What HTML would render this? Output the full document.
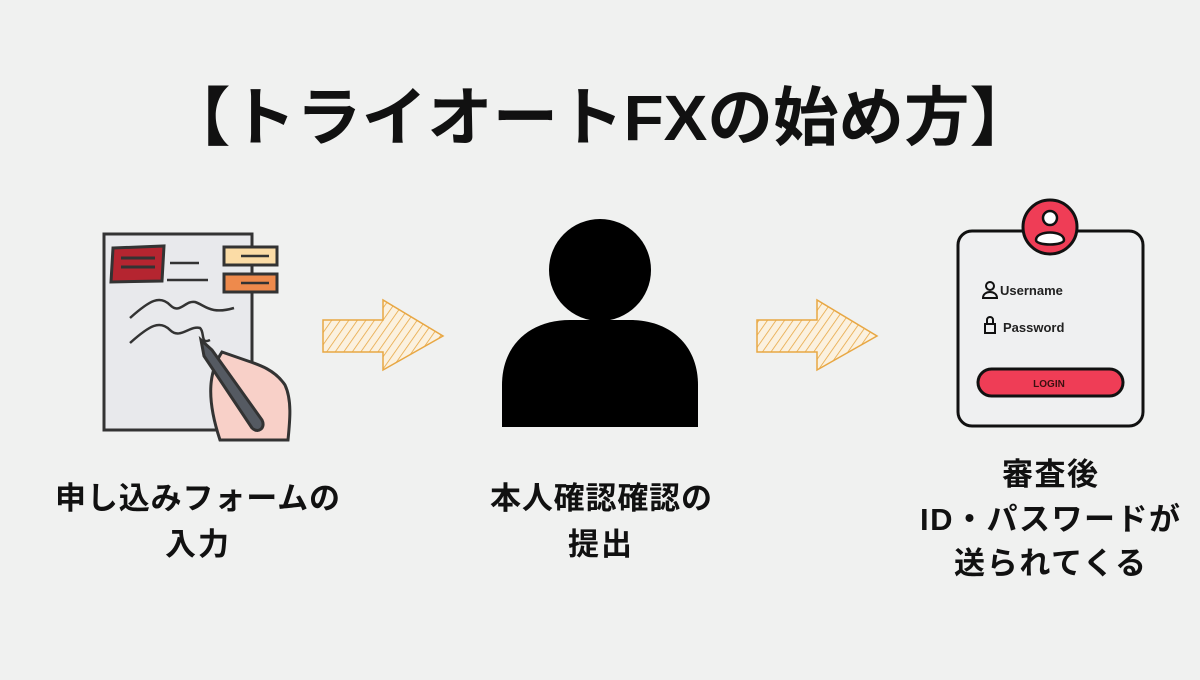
<!DOCTYPE html>
<html><head><meta charset="utf-8"><style>
body{margin:0;width:1200px;height:675px;background:#f0f1f0;overflow:hidden}
text{font-family:"Liberation Sans","Noto Sans CJK JP",sans-serif}
</style></head><body>
<svg width="1200" height="675" viewBox="0 0 1200 675" xmlns="http://www.w3.org/2000/svg">
<defs>
<pattern id="h" width="7" height="7" patternUnits="userSpaceOnUse" patternTransform="rotate(35)">
<rect width="7" height="7" fill="#fbf1df"/><line x1="0" y1="0" x2="0" y2="7" stroke="#e8a743" stroke-width="1.6"/>
</pattern>
</defs>
<text x="165" y="140" font-size="64" font-weight="bold" fill="#111" textLength="870" lengthAdjust="spacingAndGlyphs">【トライオートFXの始め方】</text>

<!-- document -->
<rect x="104" y="234" width="148" height="196" fill="#e8e9ec" stroke="#333" stroke-width="3"/>
<path d="M113 248 L164 246 L162 281 L111 282 Z" fill="#b52530" stroke="#333" stroke-width="3"/>
<line x1="121" y1="258" x2="155" y2="258" stroke="#333" stroke-width="3"/>
<line x1="121" y1="267" x2="155" y2="267" stroke="#333" stroke-width="3"/>
<line x1="170" y1="263" x2="199" y2="263" stroke="#333" stroke-width="2.5"/>
<line x1="167" y1="280" x2="208" y2="280" stroke="#333" stroke-width="2.5"/>
<rect x="224" y="247" width="53" height="18" fill="#fbdca6" stroke="#333" stroke-width="3"/>
<line x1="241" y1="256" x2="269" y2="256" stroke="#333" stroke-width="2.5"/>
<rect x="224" y="274" width="53" height="18" fill="#ee8a4c" stroke="#333" stroke-width="3"/>
<line x1="241" y1="283" x2="269" y2="283" stroke="#333" stroke-width="2.5"/>
<path d="M130 318 C150 300,160 295,170 305 C180 315,185 300,195 302 C205 305,210 315,234 308" fill="none" stroke="#333" stroke-width="2.5"/>
<path d="M130 343 C150 325,160 320,170 330 C180 340,190 325,200 328 C205 332,200 345,210 340" fill="none" stroke="#333" stroke-width="2.5"/>
<path d="M222 352 C210 370,205 395,220 440 L288 440 C290 420,292 400,285 385 C275 370,260 365,245 360 Z" fill="#f8d0c8" stroke="#333" stroke-width="3"/>
<path d="M201 340 L212 350 L262 420 C266 428,258 434,252 428 L204 356 Z" fill="#555a62" stroke="#333" stroke-width="3"/>

<!-- arrows -->
<path d="M323 320 L383 320 L383 300 L443 336 L383 370 L383 352 L323 352 Z" fill="url(#h)" stroke="#e8a743" stroke-width="1.5"/>
<path d="M757 320 L817 320 L817 300 L877 336 L817 370 L817 352 L757 352 Z" fill="url(#h)" stroke="#e8a743" stroke-width="1.5"/>

<!-- person -->
<circle cx="600" cy="270" r="51" fill="#000"/>
<path d="M502 427 L502 385 C502 345,530 320,570 320 L630 320 C670 320,698 345,698 385 L698 427 Z" fill="#000"/>

<!-- login card -->
<rect x="958" y="231" width="185" height="195" rx="14" fill="#eff0f1" stroke="#111" stroke-width="3"/>
<circle cx="1050" cy="227" r="27" fill="#ef3d56" stroke="#111" stroke-width="3"/>
<circle cx="1050" cy="218" r="7" fill="#fff" stroke="#111" stroke-width="2.5"/>
<path d="M1036 240 C1036 230,1064 230,1064 240 C1064 246,1036 246,1036 240Z" fill="#fff" stroke="#111" stroke-width="2.5"/>
<circle cx="990" cy="286" r="4" fill="none" stroke="#111" stroke-width="2"/>
<path d="M983 298 C983 290,997 290,997 298 Z" fill="none" stroke="#111" stroke-width="2"/>
<text x="1000" y="295" font-size="13" font-weight="bold" fill="#222">Username</text>
<rect x="985" y="324" width="10" height="9" fill="none" stroke="#111" stroke-width="2"/>
<path d="M987 324 V320 C987 316,993 316,993 320 V324" fill="none" stroke="#111" stroke-width="2"/>
<text x="1003" y="332" font-size="13" font-weight="bold" fill="#222">Password</text>
<rect x="978" y="369" width="145" height="27" rx="13.5" fill="#ef3d56" stroke="#111" stroke-width="3"/>
<text x="1049" y="387" text-anchor="middle" font-size="10" font-weight="bold" fill="#3a1010">LOGIN</text>

<!-- labels -->
<g font-size="31" font-weight="bold" fill="#111" lengthAdjust="spacingAndGlyphs">
<text x="55" y="509" textLength="285">申し込みフォームの</text>
<text x="165" y="555" textLength="64">入力</text>
<text x="490" y="509" textLength="222">本人確認確認の</text>
<text x="568" y="555" textLength="64">提出</text>
<text x="1002" y="485" textLength="96">審査後</text>
<text x="920" y="530" textLength="260">ID・パスワードが</text>
<text x="954" y="574" textLength="192">送られてくる</text>
</g>
</svg>
</body></html>
